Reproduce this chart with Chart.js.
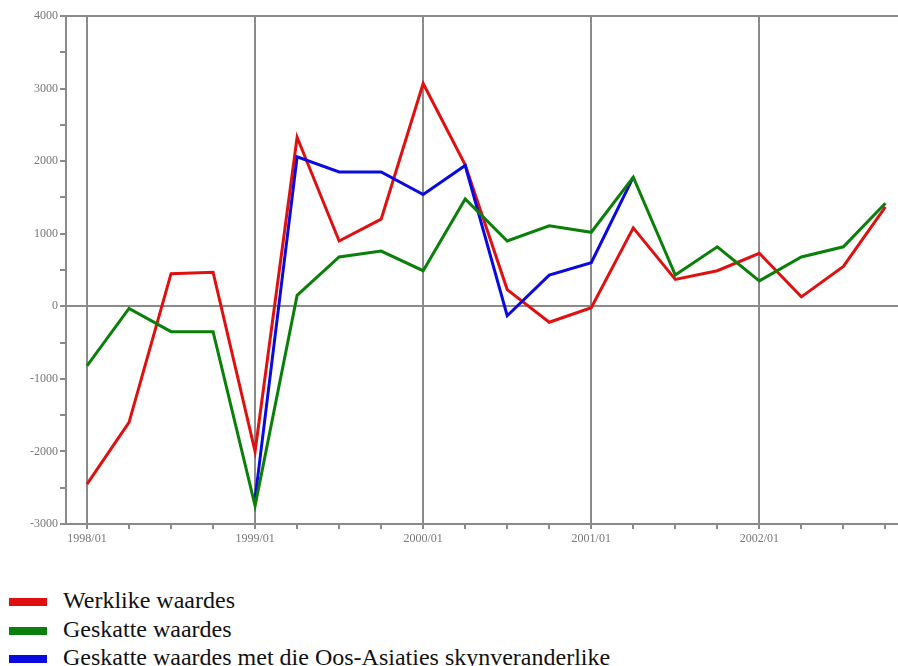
<!DOCTYPE html>
<html>
<head>
<meta charset="utf-8">
<script src="https://cdn.jsdelivr.net/npm/chart.js@4/dist/chart.umd.min.js"></script>
<style>
    html, body { margin: 0; padding: 0; background: #fff; overflow: hidden; }
    #wrap { position: relative; width: 898px; height: 666px; }
    #trend-chart { position: absolute; left: 0; top: 0; }
    #legend {
        position: absolute; left: 9px; top: 586px;
        font-family: 'Liberation Serif', 'Times New Roman', serif;
        font-size: 24px; color: #111;
    }
    .legend-row { height: 28.5px; line-height: 28.5px; white-space: nowrap; }
    .legend-swatch { display: inline-block; width: 38px; height: 8px; margin-right: 16px; vertical-align: middle; }
</style>
</head>
<body>
<div id="wrap">
    <canvas id="trend-chart" width="898" height="560"></canvas>
    <div id="legend"></div>
</div>
<script>
// Quarterly periods, 1998/01 .. 2002/04
const quarters = [
    '1998/01', '1998/02', '1998/03', '1998/04',
    '1999/01', '1999/02', '1999/03', '1999/04',
    '2000/01', '2000/02', '2000/03', '2000/04',
    '2001/01', '2001/02', '2001/03', '2001/04',
    '2002/01', '2002/02', '2002/03', '2002/04'
];

const actualValues = [
    -2450, -1600, 450, 470,
    -2000, 2330, 900, 1200,
    3070, 1950, 230, -220,
    -20, 1080, 370, 490,
    730, 130, 550, 1370
];

const estimatedValues = [
    -820, -30, -350, -350,
    -2750, 150, 680, 760,
    490, 1480, 900, 1110,
    1020, 1780, 430, 820,
    350, 680, 820, 1420
];

// Only covers 1999/01 - 2001/02
const estimatedDummyValues = [
    null, null, null, null,
    -2650, 2060, 1850, 1850,
    1540, 1940, -130, 430,
    600, 1780, null, null,
    null, null, null, null
];

const seriesNames = [
    'Werklike waardes',
    'Geskatte waardes',
    'Geskatte waardes met die Oos-Asiaties skynveranderlike'
];

const yTicks = { min: -3000, max: 4000, step: 500 };

const AXIS_GREY = '#8a8a8a';
const LABEL_GREY = '#777';

const toPoints = (values) => values.map((v, i) => ({ x: i, y: v }));

const ctx = document.getElementById('trend-chart').getContext('2d');

const chart = new Chart(ctx, {
    type: 'line',
    data: {
        datasets: [
            { label: seriesNames[0], data: toPoints(actualValues), borderColor: '#e01010', order: 2 },
            { label: seriesNames[1], data: toPoints(estimatedValues), borderColor: '#0a7f0a', order: 0 },
            { label: seriesNames[2], data: toPoints(estimatedDummyValues), borderColor: '#0a0ae0', order: 1 }
        ]
    },
    options: {
        responsive: false,
        animation: false,
        spanGaps: false,
        layout: { padding: { top: 16, right: 0, bottom: 6, left: 0 } },
        elements: {
            line: { borderWidth: 3, tension: 0, fill: false },
            point: { radius: 0, hoverRadius: 0 }
        },
        plugins: {
            legend: { display: false },
            tooltip: { enabled: false }
        },
        scales: {
            x: {
                type: 'linear',
                min: -0.5,
                max: 19.3,
                border: { display: true, color: AXIS_GREY, width: 2 },
                grid: {
                    // vertical lines only at the first quarter of each year
                    color: (c) => (c.tick && c.tick.value % 4 === 0 ? AXIS_GREY : 'rgba(0,0,0,0)'),
                    tickColor: AXIS_GREY,
                    lineWidth: 2,
                    tickLength: 5
                },
                ticks: {
                    stepSize: 1,
                    includeBounds: false,
                    autoSkip: false,
                    maxRotation: 0,
                    padding: 3,
                    color: LABEL_GREY,
                    font: { family: "'Liberation Serif', serif", size: 12 },
                    callback: (v) => (Number.isInteger(v) && v % 4 === 0 ? quarters[v] : '')
                },
                afterFit: (scale) => { scale.height = 30; }
            },
            y: {
                min: yTicks.min,
                max: yTicks.max,
                border: { display: true, color: AXIS_GREY, width: 2 },
                grid: {
                    // zero line and top edge only
                    color: (c) => (c.tick && (c.tick.value === 0 || c.tick.value === yTicks.max) ? AXIS_GREY : 'rgba(0,0,0,0)'),
                    tickColor: AXIS_GREY,
                    lineWidth: 2,
                    tickLength: 6
                },
                ticks: {
                    stepSize: yTicks.step,
                    autoSkip: false,
                    padding: 2,
                    color: LABEL_GREY,
                    font: { family: "'Liberation Serif', serif", size: 12 },
                    callback: (v) => (v % 1000 === 0 ? String(v) : '')
                },
                afterFit: (scale) => { scale.width = 66; }
            }
        }
    }
});

// Legend below the chart, built from the datasets
const legendEl = document.getElementById('legend');
chart.data.datasets.forEach((ds) => {
    const row = document.createElement('div');
    row.className = 'legend-row';
    const sw = document.createElement('span');
    sw.className = 'legend-swatch';
    sw.style.background = ds.borderColor;
    row.appendChild(sw);
    row.appendChild(document.createTextNode(ds.label));
    legendEl.appendChild(row);
});
</script>
</body>
</html>
